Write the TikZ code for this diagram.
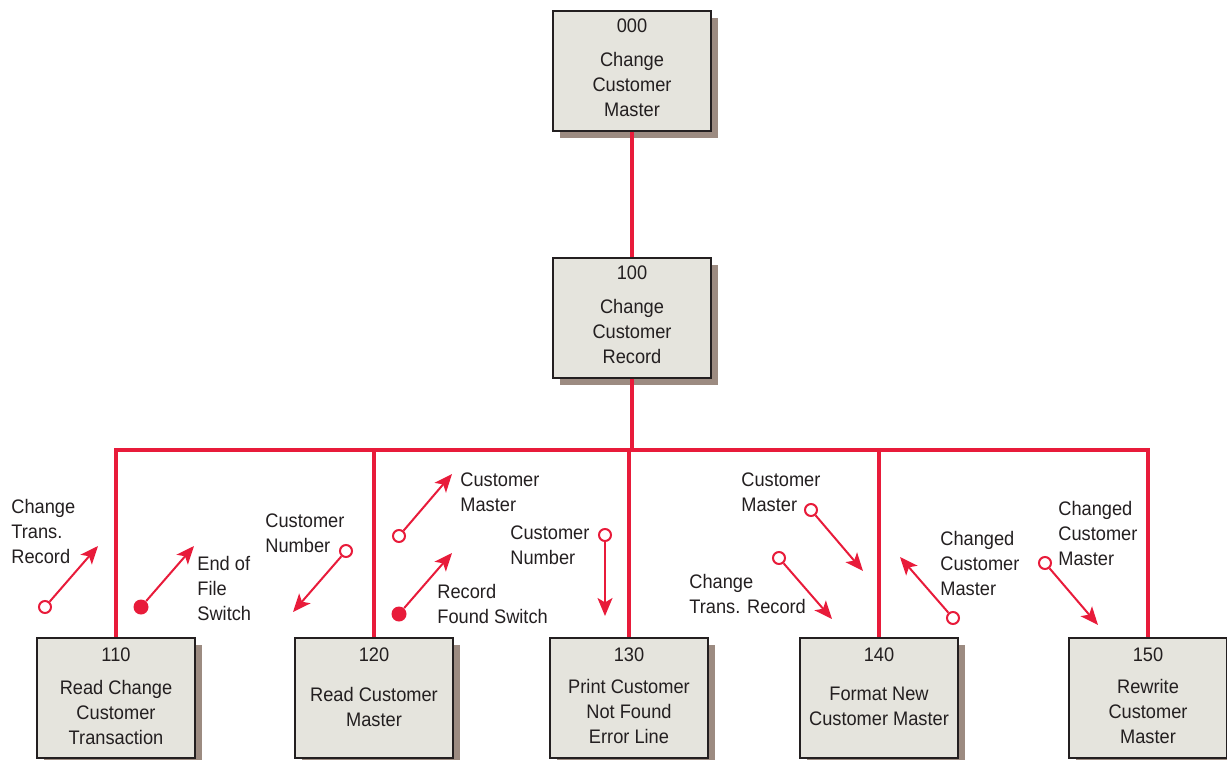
\documentclass[tikz,border=0pt]{standalone}
\usepackage{fontspec}
\setmainfont{Liberation Sans}[FakeStretch=0.93]
\usetikzlibrary{arrows.meta,shadows}

\definecolor{couplered}{RGB}{232,27,58}
\definecolor{boxfill}{RGB}{229,228,221}
\definecolor{boxshade}{RGB}{156,139,129}
\definecolor{inkgray}{RGB}{35,31,32}

\begin{document}
\begin{tikzpicture}[x=0.5pt, y=-0.5pt,
  font=\fontsize{9.8}{12.5}\selectfont, text=inkgray,
  module/.style={draw=inkgray, line width=0.7pt, fill=boxfill,
    minimum width=79pt, minimum height=60pt, inner sep=0pt,
    drop shadow={shadow xshift=3.5pt, shadow yshift=-3.5pt, fill=boxshade, opacity=1}},
  modnum/.style={inner sep=0pt},
  modtext/.style={align=center, inner sep=0pt},
  link/.style={couplered, line width=2.3pt},
  flow/.style={couplered, line width=1pt, -{Stealth[length=9pt,width=7.5pt,inset=2.2pt]}},
  datacouple/.style={circle, draw=couplered, line width=1pt, fill=white, minimum size=6pt, inner sep=0pt},
  flagcouple/.style={circle, fill=couplered, minimum size=7.5pt, inner sep=0pt},
  couplelabel/.style={anchor=west, align=left, inner sep=0pt}]
  \useasboundingbox (0,0) rectangle (1227,760);

  % modules
  \node[module] (m000) at (632,71) {};
  \node[modnum] (k000) at (632,26) {000};
  \node[modtext] (t000) at (632,84) {Change\\Customer\\Master};

  \node[module] (m100) at (632,318) {};
  \node[modnum] (k100) at (632,273) {100};
  \node[modtext] (t100) at (632,331) {Change\\Customer\\Record};

  \node[module] (m110) at (116,698) {};
  \node[modnum] (k110) at (116,655) {110};
  \node[modtext] (t110) at (116,712) {Read Change\\Customer\\Transaction};

  \node[module] (m120) at (374,698) {};
  \node[modnum] (k120) at (374,655) {120};
  \node[modtext] (t120) at (374,706.5) {Read Customer\\Master};

  \node[module] (m130) at (629,698) {};
  \node[modnum] (k130) at (629,655) {130};
  \node[modtext] (t130) at (629,711.5) {Print Customer\\Not Found\\Error Line};

  \node[module] (m140) at (879,698) {};
  \node[modnum] (k140) at (879,655) {140};
  \node[modtext] (t140) at (879,706.5) {Format New\\Customer Master};

  \node[module] (m150) at (1148,698) {};
  \node[modnum] (k150) at (1148,655) {150};
  \node[modtext] (t150) at (1148,711.5) {Rewrite\\Customer\\Master};

  % links
  \coordinate (bus) at (632,450);
  \draw[link] (m000) -- (m100);
  \draw[link] (m100) -- (bus);
  \draw[link] (bus) -| (m110);
  \draw[link] (bus) -| (m120);
  \draw[link] (bus) -| (m130);
  \draw[link] (bus) -| (m140);
  \draw[link] (bus) -| (m150);

  % couples
  \node[datacouple] (c1) at (45,607) {};
  \coordinate (e1) at (98,546);
  \draw[flow] (c1) -- (e1);
  \node[couplelabel] (l1) at (11,531) {Change\\Trans.\\Record};

  \node[flagcouple] (c2) at (141,607) {};
  \coordinate (e2) at (194,546);
  \draw[flow] (c2) -- (e2);
  \node[couplelabel] (l2) at (197,588.5) {End of\\File\\Switch};

  \node[datacouple] (c3) at (346,551) {};
  \coordinate (e3) at (293,612);
  \draw[flow] (c3) -- (e3);
  \node[couplelabel] (l3) at (265,533.5) {Customer\\Number};

  \node[datacouple] (c4) at (399,536) {};
  \coordinate (e4) at (452,474);
  \draw[flow] (c4) -- (e4);
  \node[couplelabel] (l4) at (460,492.5) {Customer\\Master};

  \node[flagcouple] (c5) at (399,614) {};
  \coordinate (e5) at (452,553);
  \draw[flow] (c5) -- (e5);
  \node[couplelabel] (l5) at (437,603.5) {Record\\Found Switch};

  \node[datacouple] (c6) at (605,535) {};
  \coordinate (e6) at (605,616);
  \draw[flow] (c6) -- (e6);
  \node[couplelabel] (l6) at (510,545.5) {Customer\\Number};

  \node[datacouple] (c7) at (811,510) {};
  \coordinate (e7) at (863,571);
  \draw[flow] (c7) -- (e7);
  \node[couplelabel] (l7) at (741,492.5) {Customer\\Master};

  \node[datacouple] (c8) at (779,558) {};
  \coordinate (e8) at (832,619);
  \draw[flow] (c8) -- (e8);
  \node[couplelabel] (l8) at (689,593.5) {Change\\Trans. Record};

  \node[datacouple] (c9) at (953,618) {};
  \coordinate (e9) at (900,557);
  \draw[flow] (c9) -- (e9);
  \node[couplelabel] (l9) at (940,563.5) {Changed\\Customer\\Master};

  \node[datacouple] (c10) at (1045,563) {};
  \coordinate (e10) at (1098,625);
  \draw[flow] (c10) -- (e10);
  \node[couplelabel] (l10) at (1058,533) {Changed\\Customer\\Master};
\end{tikzpicture}
\end{document}
